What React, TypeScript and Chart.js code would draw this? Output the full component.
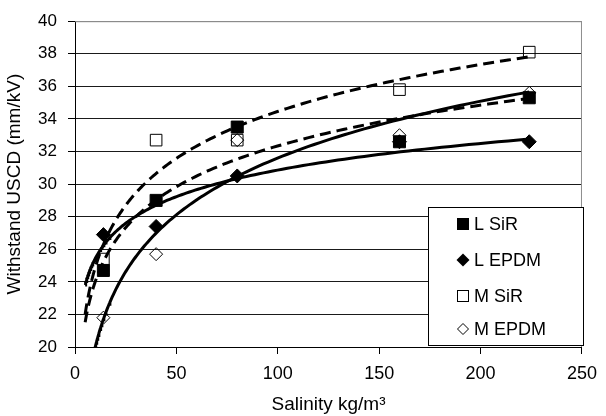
import React, { useEffect, useRef } from "react";
import { Chart, registerables } from "chart.js";

Chart.register(...registerables);

const salinity = [14, 40, 80, 160, 224];
const lSiR = [24.7, 29.0, 33.5, 32.6, 35.3];
const lEPDM = [26.9, 27.4, 30.5, 32.6, 32.6];
const mSiR = [25.4, 32.7, 32.7, 35.8, 38.1];
const mEPDM = [21.8, 25.7, 32.7, 33.0, 35.6];
const seriesNames = ["L SiR", "L EPDM", "M SiR", "M EPDM"];
const trendStart = 5;
const trendEnd = 224;
const xTicks = [0, 50, 100, 150, 200, 250];
const yTicks = [20, 22, 24, 26, 28, 30, 32, 34, 36, 38, 40];

const FONT = "'Liberation Sans', Arial, sans-serif";

function logFit(xs: number[], ys: number[]) {
  const lx = xs.map((v) => Math.log(v));
  const n = xs.length;
  const mx = lx.reduce((a, b) => a + b, 0) / n;
  const my = ys.reduce((a, b) => a + b, 0) / n;
  let sxy = 0, sxx = 0;
  for (let i = 0; i < n; i++) {
    sxy += (lx[i] - mx) * (ys[i] - my);
    sxx += (lx[i] - mx) * (lx[i] - mx);
  }
  const b = sxy / sxx;
  const a = my - b * mx;
  return { a, b };
}

function trendPoints(xs: number[], ys: number[]) {
  const { a, b } = logFit(xs, ys);
  const pts: { x: number; y: number }[] = [];
  const steps = 160;
  const l0 = Math.log(trendStart), l1 = Math.log(trendEnd);
  for (let i = 0; i <= steps; i++) {
    const x = Math.exp(l0 + ((l1 - l0) * i) / steps);
    pts.push({ x, y: a + b * Math.log(x) });
  }
  return pts;
}

const toPts = (ys: number[]) => salinity.map((x, i) => ({ x, y: ys[i] }));

const markerStyles = [
  { pointStyle: "rect", radius: 8.5, fill: "#000" },
  { pointStyle: "rectRot", radius: 7, fill: "#000" },
  { pointStyle: "rect", radius: 8.2, fill: "rgba(0,0,0,0)" },
  { pointStyle: "rectRot", radius: 6.5, fill: "rgba(0,0,0,0)" },
];

const legendPlugin = {
  id: "boxLegend",
  afterDraw(chart: any) {
    const ctx = chart.ctx;
    const area = chart.chartArea;
    ctx.save();
    // plot border top & right
    ctx.strokeStyle = "#8c8c8c";
    ctx.lineWidth = 1;
    ctx.beginPath();
    ctx.moveTo(area.left, area.top + 0.5);
    ctx.lineTo(area.right - 0.5, area.top + 0.5);
    ctx.lineTo(area.right - 0.5, area.bottom);
    ctx.stroke();
    // legend box
    const bx = 428.5, by = 207.5, bw = 155, bh = 138;
    ctx.fillStyle = "#fff";
    ctx.fillRect(bx, by, bw, bh);
    ctx.strokeStyle = "#000";
    ctx.strokeRect(bx, by, bw, bh);
    const rows = [224, 260, 296, 329];
    const mx = 463;
    ctx.font = `18px ${FONT}`;
    ctx.textBaseline = "middle";
    ctx.textAlign = "left";
    seriesNames.forEach((name, i) => {
      const y = rows[i];
      ctx.beginPath();
      if (i === 0) {
        ctx.fillStyle = "#000";
        ctx.fillRect(mx - 6, y - 6, 12, 12);
      } else if (i === 1) {
        ctx.fillStyle = "#000";
        ctx.moveTo(mx - 6.5, y);
        ctx.lineTo(mx, y - 6.5);
        ctx.lineTo(mx + 6.5, y);
        ctx.lineTo(mx, y + 6.5);
        ctx.closePath();
        ctx.fill();
      } else if (i === 2) {
        ctx.strokeStyle = "#000";
        ctx.lineWidth = 1;
        ctx.strokeRect(mx - 5.5, y - 5.5, 11, 11);
      } else {
        ctx.strokeStyle = "#000";
        ctx.lineWidth = 1;
        ctx.moveTo(mx - 5.5, y);
        ctx.lineTo(mx, y - 5.5);
        ctx.lineTo(mx + 5.5, y);
        ctx.lineTo(mx, y + 5.5);
        ctx.closePath();
        ctx.stroke();
      }
      ctx.fillStyle = "#000";
      ctx.fillText(name, 474, y + 1);
    });
    ctx.restore();
  },
};

export default function App() {
  const ref = useRef<HTMLCanvasElement | null>(null);
  useEffect(() => {
    document.body.style.margin = "0";
    const seriesData = [lSiR, lEPDM, mSiR, mEPDM];
    const markerSets = seriesData.map((ys, i) => ({
      type: "scatter" as const,
      label: seriesNames[i],
      data: toPts(ys),
      pointStyle: markerStyles[i].pointStyle,
      pointRadius: markerStyles[i].radius,
      pointBackgroundColor: markerStyles[i].fill,
      pointBorderColor: "#000",
      pointBorderWidth: 1,
      showLine: false,
      order: 0,
    }));
    const trendSets = seriesData.map((ys, i) => ({
      type: "line" as const,
      label: seriesNames[i] + " trend",
      data: trendPoints(salinity, ys),
      borderColor: "#000",
      borderWidth: 3,
      borderDash: i === 0 || i === 2 ? [11, 6] : [],
      pointRadius: 0,
      fill: false,
      tension: 0,
      order: 1,
    }));
    const chart = new Chart(ref.current as HTMLCanvasElement, {
      type: "scatter",
      data: { datasets: [...markerSets, ...trendSets] as any },
      options: {
        responsive: false,
        animation: false,
        layout: { padding: { top: 13, right: 17, left: 0, bottom: 0 } },
        plugins: { legend: { display: false }, tooltip: { enabled: false } },
        scales: {
          x: {
            type: "linear",
            min: 0,
            max: 250,
            afterBuildTicks: (s: any) => {
              s.ticks = xTicks.map((v) => ({ value: v }));
            },
            afterFit: (s: any) => {
              s.height = 69;
            },
            ticks: {
              color: "#000",
              font: { family: FONT, size: 18 },
              padding: 9,
              maxRotation: 0,
            },
            grid: {
              drawOnChartArea: false,
              drawTicks: true,
              tickLength: 7,
              tickColor: "#000",
            },
            border: { color: "#000", width: 1 },
            title: {
              display: true,
              text: "Salinity kg/m³",
              color: "#000",
              font: { family: FONT, size: 19 },
              padding: { top: 0, bottom: 0 },
            },
          },
          y: {
            type: "linear",
            min: 20,
            max: 40,
            afterBuildTicks: (s: any) => {
              s.ticks = yTicks.map((v) => ({ value: v }));
            },
            afterFit: (s: any) => {
              s.width = 75;
            },
            ticks: {
              color: "#000",
              font: { family: FONT, size: 17 },
              padding: 11,
            },
            grid: {
              color: (c: any) => (c.tick && c.tick.value === 40 ? "#8c8c8c" : "#1a1a1a"),
              lineWidth: 1,
              drawTicks: true,
              tickLength: 7,
              tickColor: "#000",
            },
            border: { color: "#000", width: 1 },
            title: {
              display: true,
              text: "Withstand USCD (mm/kV)",
              color: "#000",
              font: { family: FONT, size: 19 },
              padding: { top: 3, bottom: 0 },
            },
          },
        },
      },
      plugins: [legendPlugin],
    } as any);
    return () => chart.destroy();
  }, []);
  return (
    <div style={{ width: 606, height: 416 }}>
      <canvas ref={ref} width={606} height={416} />
    </div>
  );
}
